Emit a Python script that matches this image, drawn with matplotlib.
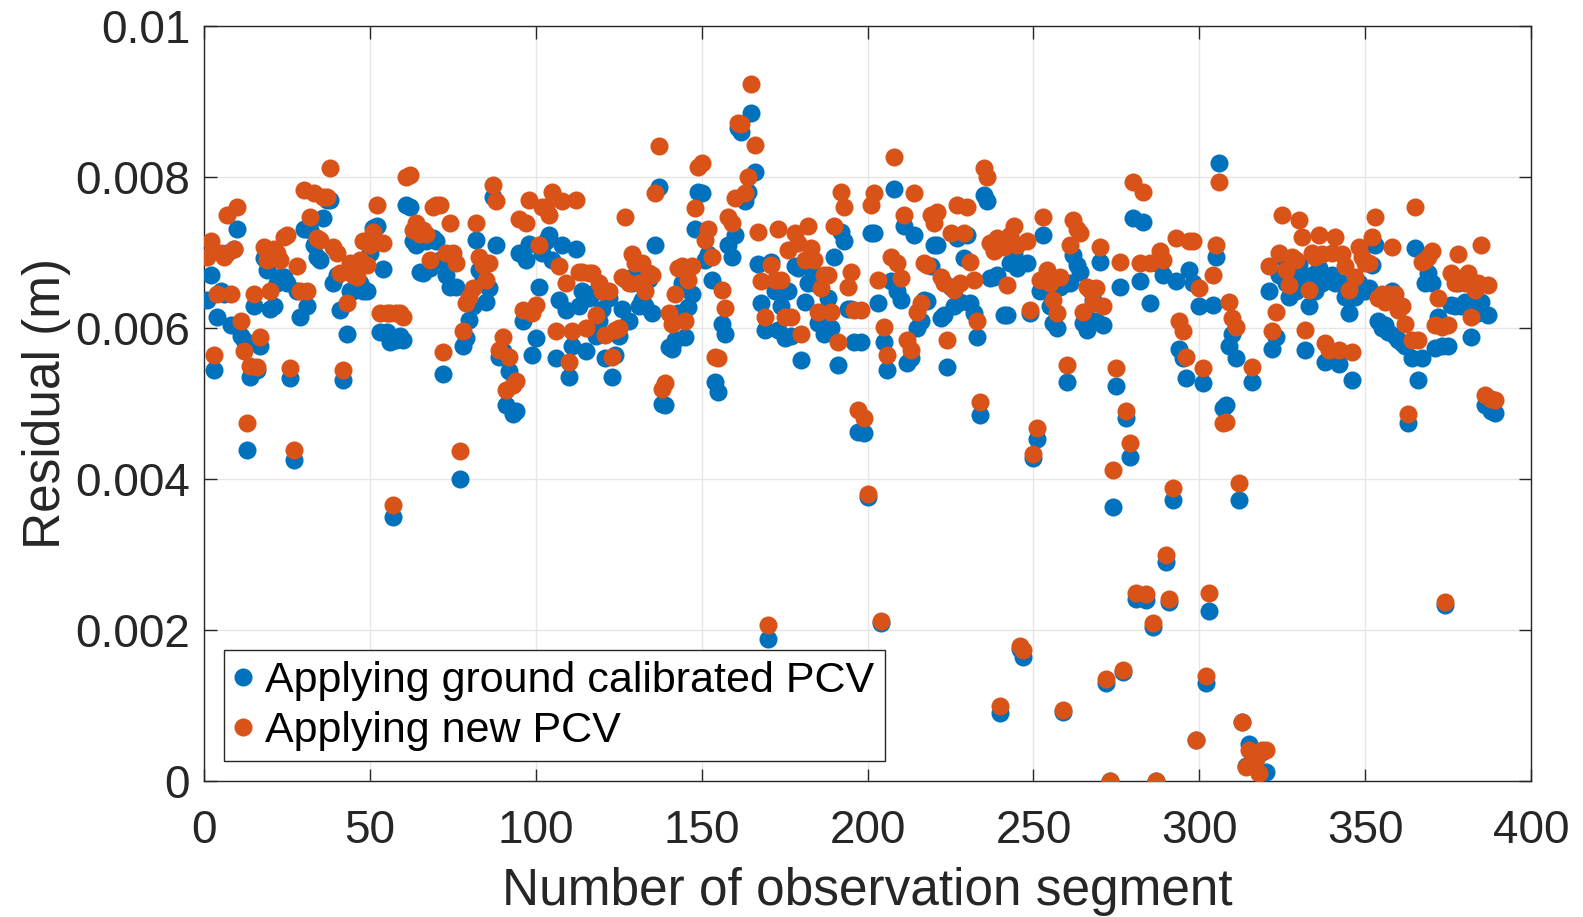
import numpy as np
import matplotlib.pyplot as plt

# residuals in mm, one value per observation segment (1..389)
ground_pcv = [
    6.37, 6.7, 5.45, 6.15, 6.5, 6.45, 7.0, 6.05, 7.05, 7.32,
    5.9, 5.85, 4.39, 5.36, 6.29, 5.45, 5.76, 6.93, 6.77, 6.26,
    6.3, 6.6, 6.68, 6.68, 6.6, 5.34, 4.26, 6.5, 6.15, 7.32,
    6.29, 7.3, 7.1, 6.95, 6.9, 7.46, 7.7, 7.7, 6.6, 6.7,
    6.24, 5.32, 5.93, 6.5, 6.5, 6.55, 6.6, 6.5, 6.5, 7.0,
    7.33, 7.35, 5.95, 6.79, 5.95, 5.82, 3.5, 5.85, 5.9, 5.85,
    7.63, 7.6, 7.15, 7.1, 6.75, 6.73, 7.15, 6.8, 7.2, 7.15,
    6.9, 5.4, 6.7, 6.55, 6.9, 6.55, 4.01, 5.76, 5.87, 6.11,
    6.3, 7.17, 6.77, 6.66, 6.35, 6.53, 7.74, 7.1, 5.62, 5.7,
    4.98, 5.43, 4.87, 4.9, 7.0, 6.09, 6.9, 7.12, 5.65, 5.87,
    6.55, 7.0, 7.15, 7.24, 6.9, 5.6, 6.38, 7.1, 6.24, 5.36,
    5.76, 7.05, 6.3, 6.5, 5.7, 6.4, 6.45, 5.9, 6.1, 6.25,
    5.6, 6.4, 5.36, 5.65, 5.9, 6.26, 6.65, 6.09, 6.6, 6.7,
    6.3, 6.38, 6.3, 6.65, 6.2, 7.1, 7.87, 5.0, 4.98, 5.75,
    5.73, 5.85, 6.2, 6.6, 5.89, 6.28, 6.46, 7.32, 7.8, 7.79,
    6.9, 6.99, 6.64, 5.29, 5.15, 6.06, 5.93, 7.1, 6.95, 7.24,
    8.65, 8.6, 7.68, 7.8, 8.85, 8.07, 6.85, 6.33, 5.98, 1.88,
    6.88, 6.5, 5.98, 6.3, 5.87, 6.5, 5.9, 6.82, 6.8, 5.58,
    6.35, 6.6, 6.8, 6.6, 6.07, 6.2, 5.93, 6.4, 6.0, 6.95,
    5.51, 7.28, 7.15, 6.26, 6.26, 5.82, 4.62, 5.82, 4.61, 3.77,
    7.26, 7.26, 6.33, 2.1, 5.82, 5.45, 6.62, 7.85, 6.5, 6.38,
    7.35, 5.54, 5.6, 7.24, 6.0, 6.1, 6.38, 6.36, 6.82, 7.1,
    7.1, 6.13, 6.17, 5.49, 6.55, 6.3, 7.2, 6.35, 6.93, 7.24,
    6.33, 6.2, 5.89, 4.85, 7.77, 7.68, 6.66, 6.68, 6.7, 0.9,
    6.18, 6.18, 6.86, 6.99, 6.8, 1.75, 1.65, 6.86, 6.2, 4.28,
    4.54, 6.5, 7.24, 6.5, 6.3, 6.07, 6.0, 6.55, 0.92, 5.29,
    6.6, 6.97, 6.84, 6.75, 6.07, 5.98, 6.11, 6.38, 6.1, 6.88,
    6.05, 1.3, 0.0, 3.64, 5.23, 6.55, 1.45, 4.81, 4.3, 7.46,
    2.42, 6.62, 7.41, 2.4, 6.33, 2.05, 0.0, 6.84, 6.7, 2.91,
    2.38, 3.73, 6.62, 5.73, 5.6, 5.34, 6.77, 6.6, 0.55, 6.29,
    5.28, 1.3, 2.26, 6.31, 6.95, 8.19, 4.95, 4.98, 5.76, 5.93,
    5.6, 3.73, 0.79, 0.2, 0.5, 5.29, 0.35, 0.11, 0.39, 0.12,
    6.49, 5.73, 5.89, 6.7, 6.95, 6.6, 6.42, 6.7, 6.5, 6.85,
    6.65, 5.71, 6.29, 6.7, 6.5, 6.8, 6.6, 5.55, 5.6, 6.7,
    6.6, 5.53, 6.6, 6.42, 6.2, 5.31, 6.42, 6.6, 6.5, 6.5,
    6.53, 6.84, 7.1, 6.09, 6.0, 6.05, 5.95, 6.5, 5.9, 5.85,
    5.8, 5.76, 4.74, 5.6, 7.06, 5.31, 5.6, 6.6, 6.73, 6.6,
    5.74, 6.15, 5.76, 2.33, 5.76, 6.31, 6.3, 6.6, 6.29, 6.35,
    6.3, 5.89, 6.3, 6.2, 6.35, 4.98, 6.18, 4.9, 4.88,
]

new_pcv = [
    6.95, 7.15, 5.65, 6.46, 7.0, 6.95, 7.5, 6.45, 7.05, 7.6,
    6.1, 5.7, 4.74, 5.5, 6.46, 5.49, 5.89, 7.08, 6.9, 6.5,
    7.05, 7.0, 6.9, 7.21, 7.23, 5.47, 4.39, 6.82, 6.5, 7.83,
    6.49, 7.48, 7.79, 7.2, 7.17, 7.74, 7.74, 8.12, 7.08, 7.0,
    6.73, 5.45, 6.33, 6.86, 6.7, 6.68, 6.9, 7.15, 6.84, 7.1,
    7.28, 7.63, 6.2, 7.13, 6.2, 6.2, 3.66, 6.2, 6.2, 6.15,
    8.0, 8.03, 7.3, 7.4, 7.25, 7.3, 7.25, 6.9, 7.6, 7.63,
    7.63, 5.69, 7.0, 7.39, 7.0, 6.86, 4.37, 5.96, 6.33, 6.42,
    6.53, 7.39, 6.95, 6.84, 6.64, 6.86, 7.9, 7.68, 5.71, 5.89,
    5.18, 5.62, 5.25, 5.3, 7.45, 6.24, 7.39, 7.7, 6.2, 6.31,
    7.1, 7.6, 7.61, 7.5, 7.81, 5.96, 6.82, 7.68, 6.6, 5.56,
    5.96, 7.7, 6.75, 6.75, 6.0, 6.73, 6.73, 6.18, 6.6, 6.5,
    5.91, 6.5, 5.62, 5.98, 6.0, 6.68, 7.48, 6.6, 6.99, 6.86,
    6.6, 6.86, 6.49, 6.73, 6.7, 7.79, 8.41, 5.2, 5.27, 6.2,
    6.06, 6.46, 6.8, 6.82, 6.1, 6.64, 6.82, 7.59, 8.14, 8.19,
    7.17, 7.32, 6.95, 5.62, 5.6, 6.51, 6.27, 7.48, 7.39, 7.72,
    8.72, 8.7, 7.79, 8.01, 9.24, 8.43, 7.28, 6.62, 6.15, 2.07,
    6.84, 6.64, 7.32, 6.64, 6.15, 7.04, 6.15, 7.26, 7.13, 5.93,
    6.9, 7.35, 7.06, 6.9, 6.22, 6.53, 6.71, 6.71, 6.22, 7.35,
    5.82, 7.81, 7.61, 6.55, 6.75, 6.24, 4.92, 6.24, 4.81, 3.81,
    7.63, 7.79, 6.64, 2.12, 6.02, 5.65, 6.95, 8.27, 6.86, 6.66,
    7.5, 5.85, 5.71, 7.79, 6.22, 6.33, 6.86, 6.84, 7.5, 7.39,
    7.54, 6.68, 6.6, 5.85, 7.26, 6.51, 7.63, 6.6, 7.26, 7.61,
    6.88, 6.64, 6.09, 5.03, 8.12, 8.01, 7.13, 7.02, 7.2, 1.0,
    7.08, 6.57, 7.24, 7.35, 7.1, 1.79, 1.74, 7.15, 6.24, 4.34,
    4.68, 6.64, 7.48, 6.77, 6.6, 6.38, 6.2, 6.68, 0.95, 5.51,
    7.1, 7.43, 7.32, 7.26, 6.22, 6.55, 6.51, 6.33, 6.53, 7.08,
    6.3, 1.35, 0.01, 4.12, 5.47, 6.88, 1.47, 4.9, 4.48, 7.94,
    2.5, 6.86, 7.81, 2.48, 6.86, 2.1, 0.0, 7.02, 6.9, 3.0,
    2.41, 3.88, 7.19, 6.09, 5.96, 5.62, 7.15, 7.15, 0.55, 6.53,
    5.47, 1.39, 2.49, 6.71, 7.1, 7.94, 4.75, 4.76, 6.35, 6.13,
    6.02, 3.95, 0.79, 0.19, 0.42, 5.49, 0.3, 0.11, 0.42, 0.42,
    6.82, 5.96, 6.22, 7.0, 7.5, 6.77, 6.57, 6.95, 6.9, 7.43,
    7.21, 5.98, 6.51, 7.0, 6.95, 7.23, 6.99, 5.8, 5.71, 7.0,
    7.21, 5.71, 6.99, 6.82, 6.51, 5.69, 6.68, 7.08, 6.95, 6.86,
    6.86, 7.21, 7.48, 6.4, 6.46, 6.35, 6.46, 7.08, 6.46, 6.24,
    6.3, 6.06, 4.87, 5.85, 7.61, 5.85, 6.88, 6.9, 6.95, 7.02,
    6.05, 6.4, 6.02, 2.37, 6.04, 6.73, 6.6, 6.99, 6.66, 6.6,
    6.73, 6.15, 6.51, 6.6, 7.1, 5.12, 6.57, 5.07, 5.05,
]

series_labels = ['Applying ground calibrated PCV', 'Applying new PCV']
x_ticks = list(range(0, 401, 50))
y_ticks = [0, 0.002, 0.004, 0.006, 0.008, 0.01]
y_tick_labels = ['0', '0.002', '0.004', '0.006', '0.008', '0.01']

segments = np.arange(1, len(new_pcv) + 1)
ground_m = np.array(ground_pcv) * 1e-3
new_m = np.array(new_pcv) * 1e-3

plt.rcParams['font.family'] = ['Liberation Sans', 'DejaVu Sans']
dark = '#262626'

fig = plt.figure(figsize=(15.83, 9.17), dpi=100)
ax = fig.add_axes([0.1289, 0.1479, 0.8383, 0.8235])

ax.plot(segments, ground_m, 'o', color='#0072BD', ms=13, mec='none',
        label=series_labels[0], zorder=3)
ax.plot(segments, new_m, 'o', color='#D95319', ms=13, mec='none',
        label=series_labels[1], zorder=4)

ax.set_xlim(0, 400)
ax.set_ylim(0, 0.01)
ax.set_xticks(x_ticks)
ax.set_yticks(y_ticks)
ax.set_yticklabels(y_tick_labels)
ax.tick_params(direction='in', length=9, width=1, top=True, right=True,
               labelsize=33, colors=dark)
ax.tick_params(axis='x', pad=20)
ax.tick_params(axis='y', pad=10)
ax.grid(True, color='#e6e6e6', lw=1)
ax.set_axisbelow(True)
for sp in ax.spines.values():
    sp.set_color(dark)
    sp.set_linewidth(1)

ax.set_xlabel('Number of observation segment', fontsize=37, color=dark, labelpad=10)
ax.set_ylabel('Residual (m)', fontsize=37, color=dark, labelpad=3)

leg = ax.legend(loc='lower left', bbox_to_anchor=(0.0151, 0.0265), borderaxespad=0,
                fontsize=31, frameon=True, fancybox=False, framealpha=1,
                handlelength=0.4, handletextpad=0.3, borderpad=0.25,
                labelspacing=0.22)
leg.get_frame().set_edgecolor(dark)
leg.get_frame().set_linewidth(1)

fig.savefig('out.png', dpi=100)
